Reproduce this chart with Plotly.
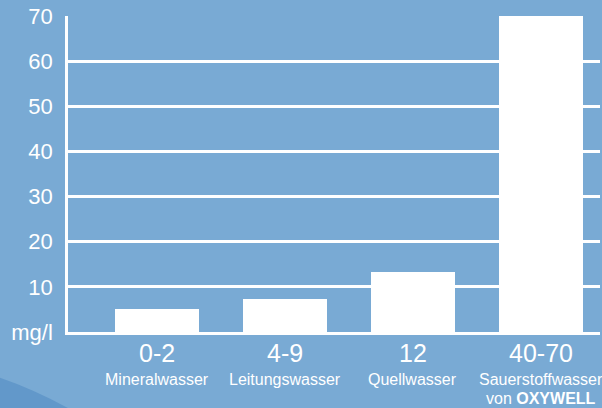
import plotly.graph_objects as go

categories = ["0-2", "4-9", "12", "40-70"]
sublabels = ["Mineralwasser", "Leitungswasser", "Quellwasser", "Sauerstoffwasser"]
extra_labels = ["", "", "", "von <b>OXYWELL</b>"]
values = [5.1, 7.4, 13.2, 70]
y_tickvals = [0, 10, 20, 30, 40, 50, 60, 70]
y_ticktext = ["mg/l", "10", "20", "30", "40", "50", "60", "70"]

BG = "#79aad4"
FONT = "Liberation Sans, Arial, sans-serif"

W, H = 602, 408
ML, MR, MT, MB = 68, 2, 16, 76
PW, PH = W - ML - MR, H - MT - MB


def px(xp):
    return (xp - ML) / PW


def py(yp):
    return (H - MB - yp) / PH


xpos = list(range(len(categories)))

fig = go.Figure()
fig.add_trace(go.Bar(
    x=xpos, y=values, width=0.656,
    marker=dict(color="white", line=dict(width=0)),
    hoverinfo="skip",
))

annotations = []
for i, (c, s, e) in enumerate(zip(categories, sublabels, extra_labels)):
    annotations.append(dict(x=i, y=0, xref="x", yref="paper", text=c, showarrow=False,
                            yanchor="middle", yshift=-21,
                            font=dict(family=FONT, size=25, color="white")))
    annotations.append(dict(x=i, y=0, xref="x", yref="paper", text=s, showarrow=False,
                            yanchor="middle", yshift=-47,
                            font=dict(family=FONT, size=16, color="white")))
    if e:
        annotations.append(dict(x=i, y=0, xref="x", yref="paper", text=e, showarrow=False,
                                yanchor="middle", yshift=-66,
                                font=dict(family=FONT, size=16, color="white")))

swoosh = "M {:.4f} {:.4f} Q {:.4f} {:.4f} {:.4f} {:.4f} L {:.4f} {:.4f} L {:.4f} {:.4f} Z".format(
    px(-5), py(376), px(35), py(389), px(75), py(412), px(75), py(412), px(-5), py(412))

fig.update_layout(
    width=W, height=H,
    margin=dict(l=ML, r=MR, t=MT, b=MB),
    paper_bgcolor=BG, plot_bgcolor=BG,
    showlegend=False,
    bargap=0,
    font=dict(family=FONT, color="white"),
    annotations=annotations,
    xaxis=dict(range=[-0.6953, 3.461], showticklabels=False, showgrid=False,
               zeroline=False, showline=True, linecolor="white", linewidth=2.5,
               fixedrange=True),
    yaxis=dict(range=[0, 70], tickvals=y_tickvals, ticktext=y_ticktext,
               showgrid=True, gridcolor="white", gridwidth=2.5,
               zeroline=False, showline=True, linecolor="white", linewidth=2.5,
               ticks="outside", ticklen=8, tickcolor="rgba(0,0,0,0)",
               tickfont=dict(family=FONT, size=22, color="white"),
               automargin=False, fixedrange=True),
    shapes=[
        dict(type="path", xref="paper", yref="paper", layer="below",
             path=swoosh, fillcolor="#5f96c9", line=dict(width=0), opacity=0.9),
    ],
)

fig.write_html("out.html", config={"displayModeBar": False},
               post_script="document.body.style.margin='0';document.body.style.overflow='hidden';")
